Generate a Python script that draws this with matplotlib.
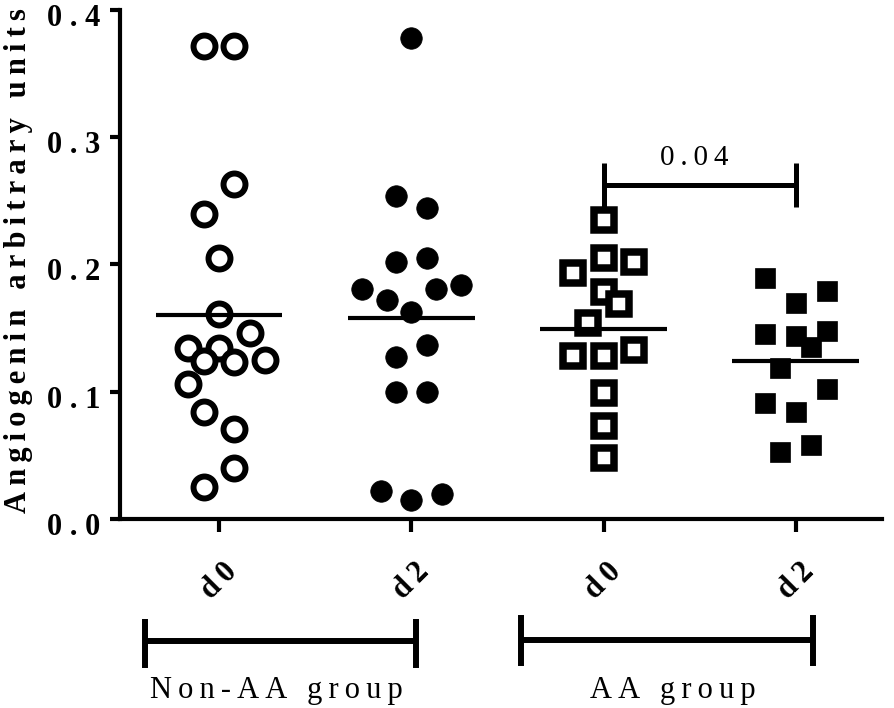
import numpy as np
import matplotlib
matplotlib.use('Agg')
import matplotlib.pyplot as plt
from matplotlib.transforms import blended_transform_factory, ScaledTranslation

plt.rcParams['font.family'] = ['Liberation Serif', 'DejaVu Serif']

# dati
categories = ['d0', 'd2', 'd0', 'd2']
groups = ['Non-AA group', 'AA group']
yticks = [0.0, 0.1, 0.2, 0.3, 0.4]
ylabel = 'Angiogenin arbitrary units'
p_value = '0.04'

nonaa_d0 = [0.372, 0.372, 0.263, 0.240, 0.205, 0.161, 0.146, 0.134, 0.134,
            0.124, 0.123, 0.125, 0.106, 0.084, 0.071, 0.040, 0.025]
nonaa_d0_jit = [-1, 1, 1, -1, 0, 0, 2, -2, 0, -1, 1, 3, -2, -1, 1, 1, -1]

nonaa_d2 = [0.378, 0.254, 0.244, 0.202, 0.205, 0.181, 0.172, 0.181, 0.184,
            0.163, 0.137, 0.127, 0.100, 0.100, 0.022, 0.015, 0.020]
nonaa_d2_jit = [0, -1, 1, -1, 1, -3.2, -1.6, 1.6, 3.2, 0, 1, -1, -1, 1, -2, 0, 2]

aa_d0 = [0.235, 0.205, 0.202, 0.193, 0.178, 0.169, 0.154, 0.128, 0.128,
         0.133, 0.099, 0.073, 0.048]
aa_d0_jit = [0, 0, 2, -2, 0, 1, -1, -2, 0, 2, 0, 0, 0]

aa_d2 = [0.189, 0.179, 0.170, 0.145, 0.144, 0.148, 0.135, 0.119, 0.102,
         0.091, 0.084, 0.053, 0.058]
aa_d2_jit = [-2, 2, 0, -2, 0, 2, 1, -1, 2, -2, 0, -1, 1]

series = [nonaa_d0, nonaa_d2, aa_d0, aa_d2]
jitters = [nonaa_d0_jit, nonaa_d2_jit, aa_d0_jit, aa_d2_jit]
styles = [dict(marker='o', ms=15.8, mfc='white', mec='black', mew=4.3),
          dict(marker='o', ms=15.5, mfc='black', mec='black', mew=0.5),
          dict(marker='s', ms=14.8, mfc='white', mec='black', mew=5.4),
          dict(marker='s', ms=15, mfc='black', mec='black', mew=0.5)]

def sp(s, gap='\u2009'):
    # spaziatura tra le lettere
    return gap.join(s)

fig = plt.figure(figsize=(8.94, 7.08), dpi=100)
ax = fig.add_axes([0.134, 0.267, 0.853, 0.719])

step = 0.08
for i, (vals, jit, st) in enumerate(zip(series, jitters, styles)):
    xs = i + step * np.array(jit)
    ax.plot(xs, vals, ls='none', clip_on=False, zorder=3, **st)
    m = np.mean(vals)
    ax.plot([i - 0.33, i + 0.33], [m, m], color='black', lw=3, zorder=4,
            solid_capstyle='butt')

# barra di significativita
ax.plot([2, 3], [0.2625, 0.2625], color='black', lw=3.6, solid_capstyle='butt')
ax.vlines([2, 3], 0.245, 0.280, color='black', lw=3.6)
ax.text(2.47, 0.2785, sp(p_value), ha='center', va='baseline', fontsize=21)

ax.set_xlim(-0.516, 3.45)
ax.set_ylim(0, 0.4)
ax.set_yticks(yticks)
ax.set_yticklabels([sp('%.1f' % v, ' ') for v in yticks], fontsize=22,
                   fontweight='bold')
ax.set_xticks(range(len(categories)))
ax.set_xticklabels([sp(c) for c in categories], rotation=45, ha='center',
                   fontsize=22, fontweight='bold')
ax.tick_params(axis='y', length=7, width=3, pad=7)
ax.tick_params(axis='x', length=9.5, width=3, pad=18)
for lbl in ax.get_yticklabels():
    lbl.set_transform(lbl.get_transform() +
                      ScaledTranslation(0, -0.05, fig.dpi_scale_trans))
for side in ['top', 'right']:
    ax.spines[side].set_visible(False)
for side in ['left', 'bottom']:
    ax.spines[side].set_linewidth(3)

fig.text(0.021, 0.632, sp(ylabel), rotation=90, ha='center', va='center',
         fontsize=22, fontweight='bold')

# parentesi dei gruppi sotto l'asse
tr = blended_transform_factory(ax.transData, fig.transFigure)
brackets = [(-0.386, 1.022, 0.0946, 0.0607, 0.1215),
            (1.57, 3.09, 0.096, 0.0636, 0.127)]
label_x = [0.30, 2.36]
for (x0, x1, yh, ylo, yhi), g, lx in zip(brackets, groups, label_x):
    ax.plot([x0, x1], [yh, yh], color='black', lw=4.3, transform=tr,
            clip_on=False, solid_capstyle='butt')
    ax.plot([x0, x0], [ylo, yhi], color='black', lw=4.3, transform=tr, clip_on=False)
    ax.plot([x1, x1], [ylo, yhi], color='black', lw=4.3, transform=tr, clip_on=False)
    ax.text(lx, 0.0254, sp(g), transform=tr, ha='center', va='center', fontsize=22)

fig.savefig('out.png', dpi=100)
